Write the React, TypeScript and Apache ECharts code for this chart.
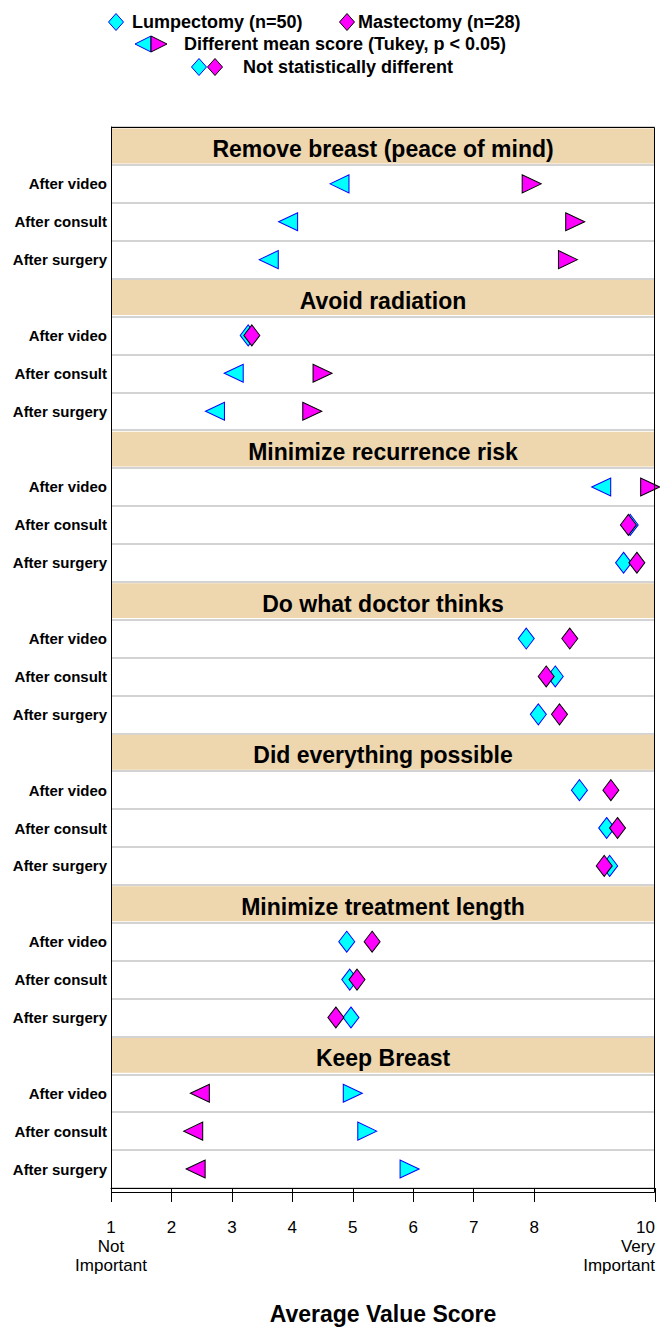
import React, { useEffect, useRef } from 'react';
import * as echarts from 'echarts';

// ---- data ----
const panels = [
  'Remove breast (peace of mind)',
  'Avoid radiation',
  'Minimize recurrence risk',
  'Do what doctor thinks',
  'Did everything possible',
  'Minimize treatment length',
  'Keep Breast',
];
const timepoints = ['After video', 'After consult', 'After surgery'];
const lumpectomy = [
  [4.78, 3.93, 3.61],
  [3.27, 3.03, 2.72],
  [9.11, 9.59, 9.48],
  [7.87, 8.35, 8.07],
  [8.75, 9.2, 9.25],
  [4.9, 4.95, 4.97],
  [5.0, 5.24, 5.94],
];
const mastectomy = [
  [7.96, 8.68, 8.56],
  [3.33, 4.5, 4.33],
  [9.92, 9.56, 9.7],
  [8.59, 8.2, 8.42],
  [9.27, 9.38, 9.16],
  [5.32, 5.07, 4.72],
  [2.47, 2.36, 2.4],
];
const different = [
  [true, true, true],
  [false, true, true],
  [true, false, false],
  [false, false, false],
  [false, false, false],
  [false, false, false],
  [true, true, true],
];
const xTickLabels: Record<number, string> = {
  1: '1\nNot\nImportant',
  10: '10\nVery\nImportant',
};
const legendTexts = [
  'Lumpectomy (n=50)',
  'Mastectomy (n=28)',
  'Different mean score (Tukey, p < 0.05)',
  'Not statistically different',
];

const FONT = '"Liberation Sans", Arial, sans-serif';
const CYAN = '#00FFFF';
const BLUE = '#0000FF';
const MAGENTA = '#FF00FF';
const TAN = '#EED6AF';

const categories: string[] = [];
panels.forEach(() => {
  categories.push('');
  timepoints.forEach((t) => categories.push(t));
});

function markerFor(v: number, other: number, diff: boolean) {
  if (!diff) return { symbol: 'diamond', symbolSize: [16, 21], symbolRotate: 0 };
  return { symbol: 'triangle', symbolSize: [18, 19], symbolRotate: v < other ? 90 : -90 };
}

function buildPoints(vals: number[][], others: number[][]) {
  const out: any[] = [];
  vals.forEach((row, p) =>
    row.forEach((v, t) => {
      out.push({ value: [v, p * 4 + t + 1], ...markerFor(v, others[p][t], different[p][t]) });
    })
  );
  return out;
}

function diamond(cx: number, cy: number, w: number, h: number) {
  return [
    [cx, cy - h / 2],
    [cx + w / 2, cy],
    [cx, cy + h / 2],
    [cx - w / 2, cy],
  ];
}

export default function App() {
  const ref = useRef<HTMLDivElement>(null);
  useEffect(() => {
    if (!ref.current) return;
    const chart = echarts.init(ref.current, undefined, { renderer: 'svg' });
    const legendFont = `bold 18px ${FONT}`;
    const txt = (text: string, x: number, y: number) => ({
      type: 'text',
      x,
      y,
      style: { text, font: legendFont, fill: '#000', align: 'left', verticalAlign: 'middle', textAlign: 'left', textVerticalAlign: 'middle' },
    });
    const poly = (points: number[][], fill: string, stroke: string) => ({
      type: 'polygon',
      shape: { points },
      style: { fill, stroke, lineWidth: 1 },
    });
    chart.setOption({
      animation: false,
      backgroundColor: '#fff',
      grid: { left: 111, top: 127, width: 544, height: 1066, containLabel: false },
      xAxis: {
        type: 'value',
        min: 1,
        max: 10,
        interval: 1,
        position: 'bottom',
        axisLine: { show: true, lineStyle: { color: '#000', width: 1 } },
        axisTick: { show: true, length: 14, lineStyle: { color: '#000' } },
        splitLine: { show: false },
        axisLabel: {
          margin: 30,
          fontSize: 17,
          lineHeight: 19,
          color: '#000',
          fontFamily: FONT,
          showMinLabel: true,
          showMaxLabel: true,
          alignMaxLabel: 'right',
          formatter: (v: number) => xTickLabels[v] ?? String(v),
        },
        name: 'Average Value Score',
        nameLocation: 'middle',
        nameGap: 114,
        nameTextStyle: { fontWeight: 'bold', fontSize: 23, lineHeight: 23, color: '#000', fontFamily: FONT },
      },
      yAxis: {
        type: 'category',
        data: categories,
        inverse: true,
        axisLine: { show: true, lineStyle: { color: '#000' } },
        axisTick: { show: false },
        axisLabel: { interval: 0, fontSize: 15, fontWeight: 'bold', color: '#000', fontFamily: FONT, margin: 4 },
        splitLine: { show: true, interval: 0, lineStyle: { color: '#D3D3D3', width: 2 } },
      },
      series: [
        {
          type: 'custom',
          z: 1,
          silent: true,
          encode: { x: 0, y: 1 },
          data: panels.map((_, i) => [1, i * 4]),
          renderItem: (params: any, api: any) => {
            const row = api.value(1);
            const l = api.coord([1, row]);
            const r = api.coord([10, row]);
            const h = api.size([0, 1])[1];
            return {
              type: 'group',
              children: [
                {
                  type: 'rect',
                  shape: { x: l[0] + 1, y: l[1] - h / 2 + 1.5, width: r[0] - l[0] - 2, height: h - 3 },
                  style: { fill: TAN },
                },
                {
                  type: 'text',
                  x: (l[0] + r[0]) / 2,
                  y: l[1] + 3,
                  style: {
                    text: panels[params.dataIndex],
                    font: `bold 23px ${FONT}`,
                    fill: '#000',
                    align: 'center',
                    verticalAlign: 'middle',
                    textAlign: 'center',
                    textVerticalAlign: 'middle',
                  },
                },
              ],
            };
          },
        },
        {
          name: 'Lumpectomy (n=50)',
          type: 'scatter',
          z: 3,
          data: buildPoints(lumpectomy, mastectomy),
          itemStyle: { color: CYAN, borderColor: BLUE, borderWidth: 1, opacity: 1 },
        },
        {
          name: 'Mastectomy (n=28)',
          type: 'scatter',
          z: 4,
          data: buildPoints(mastectomy, lumpectomy),
          itemStyle: { color: MAGENTA, borderColor: '#000', borderWidth: 1, opacity: 1 },
        },
      ],
      graphic: [
        {
          type: 'rect',
          z: 10,
          silent: true,
          shape: { x: 111.5, y: 127.5, width: 543, height: 1065 },
          style: { fill: 'none', stroke: '#000', lineWidth: 1 },
        },
        poly(diamond(116, 22, 15, 17), CYAN, BLUE),
        txt(legendTexts[0], 132, 22),
        poly(diamond(347, 22, 15, 17), MAGENTA, '#000'),
        txt(legendTexts[1], 358, 22),
        poly([[135, 44], [151, 36], [151, 52]], CYAN, BLUE),
        poly([[167, 44], [151, 36], [151, 52]], MAGENTA, '#000'),
        txt(legendTexts[2], 184, 44),
        poly(diamond(199, 67, 15, 17), CYAN, BLUE),
        poly(diamond(215, 67, 15, 17), MAGENTA, '#000'),
        txt(legendTexts[3], 243, 67),
      ],
    });
    return () => chart.dispose();
  }, []);
  return (
    <div
      ref={ref}
      style={{ position: 'absolute', left: 0, top: 0, width: 660, height: 1330, overflow: 'hidden' }}
    />
  );
}
